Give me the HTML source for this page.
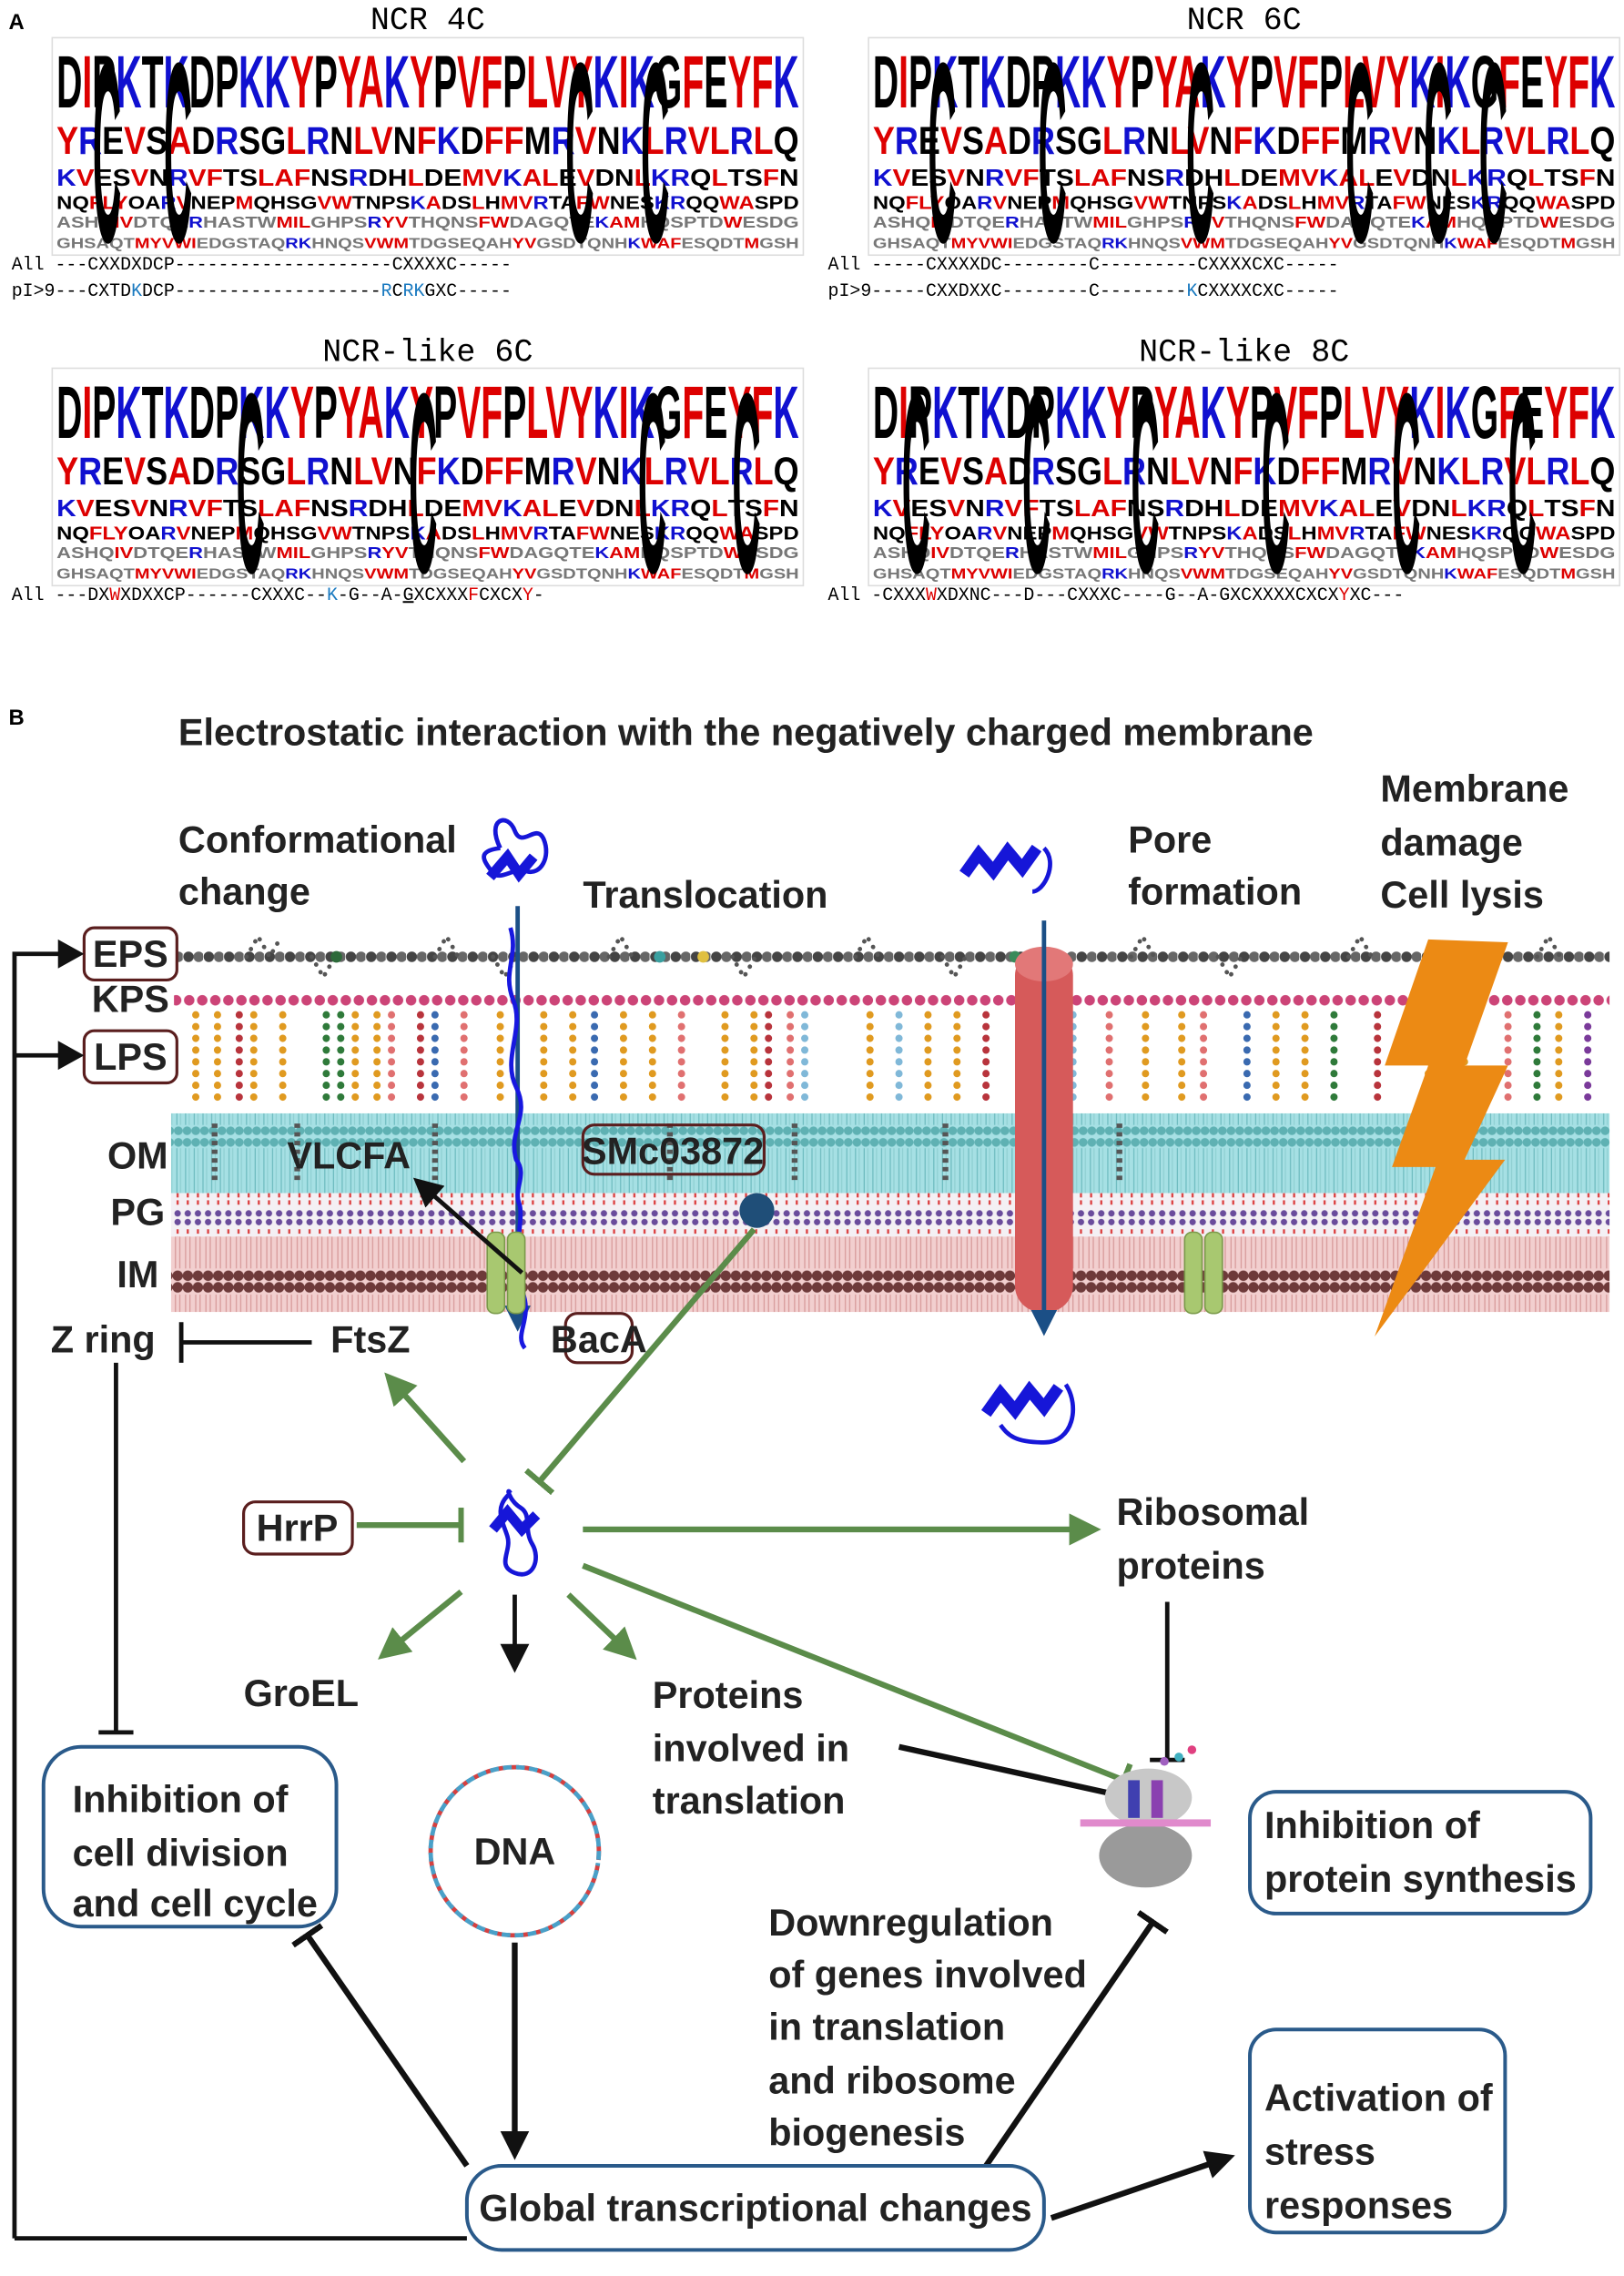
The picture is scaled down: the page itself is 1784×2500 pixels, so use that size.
<!DOCTYPE html>
<html><head><meta charset="utf-8"><style>
html,body{margin:0;padding:0;background:#fff;}
svg{display:block;}
.h{font-family:"Liberation Mono",monospace;font-size:22px;}
.s{font-family:"Liberation Mono",monospace;font-size:12.5px;}
.L{font-family:"Liberation Sans",sans-serif;font-weight:bold;}
.b{font-family:"Liberation Sans",sans-serif;font-weight:bold;font-size:26px;fill:#222;}
.r{fill:#d00;}.u{fill:#1010d0;}.k{fill:#000;}.g{fill:#777;}
</style></head><body>
<svg width="1784" height="2500" viewBox="0 0 1120 1570" preserveAspectRatio="none" xmlns="http://www.w3.org/2000/svg">
<defs>
<g id="logo">
 <rect x="0" y="0" width="518" height="150" fill="#fff" stroke="#ddd"/>
 <text class="L" transform="translate(3,48) scale(1,1.9)" font-size="27" textLength="512" lengthAdjust="spacingAndGlyphs"><tspan class="k">D</tspan><tspan class="r">I</tspan><tspan class="k">P</tspan><tspan class="u">K</tspan><tspan class="k">T</tspan><tspan class="u">K</tspan><tspan class="k">DP</tspan><tspan class="u">KK</tspan><tspan class="r">Y</tspan><tspan class="k">P</tspan><tspan class="r">YA</tspan><tspan class="u">K</tspan><tspan class="r">Y</tspan><tspan class="k">P</tspan><tspan class="r">VF</tspan><tspan class="k">P</tspan><tspan class="r">LVY</tspan><tspan class="u">K</tspan><tspan class="r">I</tspan><tspan class="u">K</tspan><tspan class="k">G</tspan><tspan class="r">F</tspan><tspan class="k">E</tspan><tspan class="r">YF</tspan><tspan class="u">K</tspan></text>
 <text class="L" transform="translate(3,80) scale(1,1.35)" font-size="20" textLength="512" lengthAdjust="spacingAndGlyphs"><tspan class="r">Y</tspan><tspan class="u">R</tspan><tspan class="k">E</tspan><tspan class="r">V</tspan><tspan class="k">S</tspan><tspan class="r">A</tspan><tspan class="k">D</tspan><tspan class="u">R</tspan><tspan class="k">SG</tspan><tspan class="r">L</tspan><tspan class="u">R</tspan><tspan class="k">N</tspan><tspan class="r">LV</tspan><tspan class="k">N</tspan><tspan class="r">F</tspan><tspan class="u">K</tspan><tspan class="k">D</tspan><tspan class="r">FF</tspan><tspan class="k">M</tspan><tspan class="u">R</tspan><tspan class="r">V</tspan><tspan class="k">N</tspan><tspan class="u">K</tspan><tspan class="r">L</tspan><tspan class="u">R</tspan><tspan class="r">VL</tspan><tspan class="u">R</tspan><tspan class="r">L</tspan><tspan class="k">Q</tspan></text>
 <text class="L" transform="translate(3,102) scale(1,1.1)" font-size="15" textLength="512" lengthAdjust="spacingAndGlyphs"><tspan class="u">K</tspan><tspan class="r">V</tspan><tspan class="k">ES</tspan><tspan class="r">V</tspan><tspan class="k">N</tspan><tspan class="u">R</tspan><tspan class="r">VF</tspan><tspan class="k">TS</tspan><tspan class="r">LAF</tspan><tspan class="k">NS</tspan><tspan class="u">R</tspan><tspan class="k">DH</tspan><tspan class="r">L</tspan><tspan class="k">DE</tspan><tspan class="r">MV</tspan><tspan class="u">K</tspan><tspan class="r">AL</tspan><tspan class="k">E</tspan><tspan class="r">V</tspan><tspan class="k">DN</tspan><tspan class="r">L</tspan><tspan class="u">KR</tspan><tspan class="k">Q</tspan><tspan class="r">L</tspan><tspan class="k">TS</tspan><tspan class="r">F</tspan><tspan class="k">N</tspan></text>
 <text class="L" transform="translate(3,118)" font-size="13" textLength="512" lengthAdjust="spacingAndGlyphs"><tspan class="k">NQ</tspan><tspan class="r">FLY</tspan><tspan class="k">OA</tspan><tspan class="u">R</tspan><tspan class="r">V</tspan><tspan class="k">NEP</tspan><tspan class="r">M</tspan><tspan class="k">QHSG</tspan><tspan class="r">VW</tspan><tspan class="k">TNPS</tspan><tspan class="u">K</tspan><tspan class="r">A</tspan><tspan class="k">DS</tspan><tspan class="r">L</tspan><tspan class="k">H</tspan><tspan class="r">MV</tspan><tspan class="u">R</tspan><tspan class="k">TA</tspan><tspan class="r">FW</tspan><tspan class="k">NES</tspan><tspan class="u">KR</tspan><tspan class="k">QQ</tspan><tspan class="r">WA</tspan><tspan class="k">SPD</tspan></text>
 <text class="L" transform="translate(3,131)" font-size="11" textLength="512" lengthAdjust="spacingAndGlyphs"><tspan class="g">ASHQ</tspan><tspan class="r">IV</tspan><tspan class="g">DTQE</tspan><tspan class="u">R</tspan><tspan class="g">HASTW</tspan><tspan class="r">MIL</tspan><tspan class="g">GHPS</tspan><tspan class="u">R</tspan><tspan class="r">YV</tspan><tspan class="g">THQNS</tspan><tspan class="r">FW</tspan><tspan class="g">DAGQTE</tspan><tspan class="u">K</tspan><tspan class="r">AM</tspan><tspan class="g">HQSPTD</tspan><tspan class="r">W</tspan><tspan class="g">ESDG</tspan></text>
 <text class="L" transform="translate(3,145)" font-size="10" textLength="512" lengthAdjust="spacingAndGlyphs"><tspan class="g">GHSAQT</tspan><tspan class="r">MYVWI</tspan><tspan class="g">EDGSTAQ</tspan><tspan class="u">RK</tspan><tspan class="g">HNQS</tspan><tspan class="r">VWM</tspan><tspan class="g">TDGSEQAH</tspan><tspan class="r">YV</tspan><tspan class="g">GSDTQNH</tspan><tspan class="u">K</tspan><tspan class="r">WAF</tspan><tspan class="g">ESQDT</tspan><tspan class="r">M</tspan><tspan class="g">GSH</tspan></text>
</g>
<g id="bigC"><text class="L" font-size="34" y="27" transform="scale(0.8,5.2)" fill="#000">C</text></g>
<pattern id="eps" width="14" height="40" patternUnits="userSpaceOnUse"><circle cx="4" cy="20" r="3.6" fill="#444"/><circle cx="11" cy="20" r="3.6" fill="#666"/></pattern>
<pattern id="kps" width="9" height="12" patternUnits="userSpaceOnUse"><circle cx="4.5" cy="6" r="3.6" fill="#cc4477"/></pattern>
<pattern id="om" width="6" height="56" patternUnits="userSpaceOnUse"><rect width="6" height="56" fill="#a6e0e4"/><circle cx="3" cy="4" r="3" fill="#5fb1b3"/><circle cx="3" cy="52" r="3" fill="#5fb1b3"/><line x1="2" y1="8" x2="2" y2="48" stroke="#6fbcc0" stroke-width="0.8"/><line x1="4.5" y1="8" x2="4.5" y2="48" stroke="#8fd0d2" stroke-width="0.8"/></pattern>
<pattern id="pg" width="7" height="30" patternUnits="userSpaceOnUse"><rect width="7" height="30" fill="#f4f0f4"/><circle cx="3.5" cy="3" r="2.2" fill="#6a4c9c"/><circle cx="3.5" cy="27" r="2.2" fill="#6a4c9c"/><line x1="3.5" y1="8" x2="3.5" y2="22" stroke="#d44" stroke-width="1.5" stroke-dasharray="3 2"/></pattern>
<pattern id="im" width="7" height="52" patternUnits="userSpaceOnUse"><rect width="7" height="52" fill="#f2cfcf"/><circle cx="3.5" cy="4" r="3.6" fill="#6e3a3a"/><circle cx="3.5" cy="48" r="3.6" fill="#6e3a3a"/><line x1="2" y1="9" x2="2" y2="43" stroke="#d79a9a" stroke-width="0.8"/><line x1="5" y1="9" x2="5" y2="43" stroke="#d79a9a" stroke-width="0.8"/></pattern>
<marker id="ag" viewBox="0 0 10 10" refX="8" refY="5" markerUnits="userSpaceOnUse" markerWidth="22" markerHeight="22" orient="auto"><path d="M0,0L10,5L0,10z" fill="#5b8c4a"/></marker>
<marker id="ak" viewBox="0 0 10 10" refX="8" refY="5" markerUnits="userSpaceOnUse" markerWidth="20" markerHeight="20" orient="auto"><path d="M0,0L10,5L0,10z" fill="#111"/></marker>
<marker id="ab" viewBox="0 0 10 10" refX="8" refY="5" markerUnits="userSpaceOnUse" markerWidth="18" markerHeight="18" orient="auto"><path d="M0,0L10,5L0,10z" fill="#1b4f86"/></marker>
<marker id="tg" viewBox="0 0 4 24" refX="2" refY="12" markerUnits="userSpaceOnUse" markerWidth="4" markerHeight="24" orient="auto"><rect width="4" height="24" fill="#5b8c4a"/></marker>
<marker id="tk" viewBox="0 0 4 24" refX="2" refY="12" markerUnits="userSpaceOnUse" markerWidth="4" markerHeight="24" orient="auto"><rect width="4" height="24" fill="#111"/></marker>
</defs>

<!-- PANEL A -->
<text x="6" y="20" class="L" font-size="15">A</text>
<text x="295" y="20" class="h" text-anchor="middle">NCR 4C</text>
<text x="858" y="20" class="h" text-anchor="middle">NCR 6C</text>
<text x="295" y="249" class="h" text-anchor="middle">NCR-like 6C</text>
<text x="858" y="249" class="h" text-anchor="middle">NCR-like 8C</text>
<use href="#logo" x="36" y="26"/>
<use href="#logo" x="599" y="26"/>
<use href="#logo" x="36" y="254"/>
<use href="#logo" x="599" y="254"/>
<use href="#bigC" x="64" y="26"/><use href="#bigC" x="113" y="26"/><use href="#bigC" x="390" y="26"/><use href="#bigC" x="442" y="26"/>
<use href="#bigC" x="640" y="26"/><use href="#bigC" x="716" y="26"/><use href="#bigC" x="818" y="26"/><use href="#bigC" x="928" y="26"/><use href="#bigC" x="982" y="26"/><use href="#bigC" x="1020" y="26"/>
<use href="#bigC" x="163" y="254"/><use href="#bigC" x="282" y="254"/><use href="#bigC" x="440" y="254"/><use href="#bigC" x="505" y="254"/>
<use href="#bigC" x="622" y="254"/><use href="#bigC" x="705" y="254"/><use href="#bigC" x="780" y="254"/><use href="#bigC" x="870" y="254"/><use href="#bigC" x="960" y="254"/><use href="#bigC" x="1040" y="254"/>
<text x="8" y="186" class="s">All  ---CXXDXDCP--------------------CXXXXC-----</text>
<text x="8" y="204" class="s">pI&gt;9---CXTD<tspan fill="#1a7ac0">K</tspan>DCP-------------------<tspan fill="#1a7ac0">R</tspan>C<tspan fill="#1a7ac0">RK</tspan>GXC-----</text>
<text x="571" y="186" class="s">All  -----CXXXXDC--------C---------CXXXXCXC-----</text>
<text x="571" y="204" class="s">pI&gt;9-----CXXDXXC--------C--------<tspan fill="#1a7ac0">K</tspan>CXXXXCXC-----</text>
<text x="8" y="414" class="s">All  ---DX<tspan fill="#d00">W</tspan>XDXXCP------CXXXC--<tspan fill="#1a7ac0">K</tspan>-G--A-<tspan text-decoration="underline">G</tspan>XCXXX<tspan fill="#d00">F</tspan>CXCX<tspan fill="#d00">Y</tspan>-</text>
<text x="571" y="414" class="s">All  -CXXX<tspan fill="#d00">W</tspan>XDXNC---D---CXXXC----G--A-GXCXXXXCXCX<tspan fill="#d00">Y</tspan>XC---</text>

<!-- PANEL B -->
<text x="6" y="500" class="L" font-size="15">B</text>
<text x="123" y="514" class="b" font-size="24">Electrostatic interaction with the negatively charged membrane</text>
<text x="123" y="588" class="b">Conformational</text>
<text x="123" y="624" class="b">change</text>
<text x="402" y="626" class="b">Translocation</text>
<text x="778" y="588" class="b">Pore</text>
<text x="778" y="624" class="b">formation</text>
<text x="952" y="553" class="b">Membrane</text>
<text x="952" y="590" class="b">damage</text>
<text x="952" y="626" class="b">Cell lysis</text>

<!-- membrane -->
<g>
<rect x="120" y="640" width="990" height="40" fill="url(#eps)"/>
<g stroke="#555" stroke-width="3" stroke-linecap="round" stroke-dasharray="0.1 6" fill="none">
<path d="M170 660l8-14 8 14 8-14M215 660l8 14 8-14M300 660l8-14 8 14M340 660l8 14 8-14M420 660l8-14 8 14M505 660l8 14 8-14M590 660l8-14 8 14M650 660l8 14 8-14M780 660l8-14 8 14M840 660l8 14 8-14M930 660l8-14 8 14M1000 660l8 14 8-14M1060 660l8-14 8 14"/>
</g>
<circle cx="485" cy="660" r="4" fill="#e0c040"/><circle cx="232" cy="660" r="4" fill="#2d6a3a"/><circle cx="455" cy="660" r="4" fill="#3aa0a0"/><circle cx="700" cy="660" r="4" fill="#3a8a5a"/>
<rect x="120" y="682" width="990" height="12" fill="url(#kps)"/>
<g stroke-width="5" stroke-linecap="round" stroke-dasharray="0.1 8" fill="none">
<path stroke="#e09a20" d="M135 700V760M150 700V760M175 700V760M195 700V760M245 700V760M260 700V760M345 700V760M375 700V760M395 700V760M430 700V760M450 700V760M500 700V760M520 700V760M600 700V760M640 700V760M660 700V760M790 700V760M815 700V760M880 700V760M900 700V760M985 700V760M1010 700V760M1075 700V760"/>
<path stroke="#b8343c" d="M165 700V760M290 700V760M530 700V760M680 700V760M950 700V760"/>
<path stroke="#e07070" d="M270 700V760M320 700V760M470 700V760M545 700V760M765 700V760M830 700V760M1040 700V760"/>
<path stroke="#2f7a3a" d="M225 700V760M235 700V760M920 700V760M1060 700V760"/>
<path stroke="#3a6ab0" d="M300 700V760M410 700V760M860 700V760"/>
<path stroke="#80b8d8" d="M620 700V760M740 700V760M555 700V760"/>
<path stroke="#7a3a9a" d="M1095 700V760"/>
</g>
<rect x="118" y="768" width="992" height="55" fill="url(#om)"/>
<g stroke="#555" stroke-width="4" stroke-dasharray="3 3"><path d="M148 775V815M205 775V815M300 775V815M462 775V815M548 775V815M652 775V815M772 775V815"/></g>
<rect x="118" y="823" width="992" height="30" fill="url(#pg)"/>
<rect x="118" y="853" width="992" height="52" fill="url(#im)"/>
</g>
<!-- labels -->
<rect x="58" y="640" width="64" height="36" rx="7" fill="#fff" stroke="#5a1e1e" stroke-width="2"/>
<text x="90" y="667" class="b" text-anchor="middle" font-size="24">EPS</text>
<text x="90" y="698" class="b" text-anchor="middle" font-size="24">KPS</text>
<rect x="58" y="711" width="64" height="36" rx="7" fill="#fff" stroke="#5a1e1e" stroke-width="2"/>
<text x="90" y="738" class="b" text-anchor="middle" font-size="24">LPS</text>
<text x="95" y="806" class="b" text-anchor="middle" font-size="24">OM</text>
<text x="95" y="845" class="b" text-anchor="middle" font-size="24">PG</text>
<text x="95" y="888" class="b" text-anchor="middle" font-size="24">IM</text>
<text x="198" y="806" class="b" font-size="24">VLCFA</text>
<rect x="402" y="776" width="125" height="34" rx="8" fill="none" stroke="#5a1e1e" stroke-width="2"/>
<text x="464" y="803" class="b" text-anchor="middle" font-size="24">SMc03872</text>
<!-- left feedback -->
<path d="M10 1544V658H52M10 728H52" fill="none" stroke="#111" stroke-width="3"/>
<path d="M40 648L58 658L40 668zM40 718L58 728L40 738z" fill="#111"/>
<path d="M322 1544H10" stroke="#111" stroke-width="3"/>
<!-- translocation -->
<path d="M357 625V915" stroke="#1b4f86" stroke-width="3" marker-end="url(#ab)"/>
<path d="M352 640c6 20-6 30 2 50s-8 40 2 60 -6 30 0 50c8 10-2 20 2 30s-6 40 2 60 -6 30 2 40" stroke="#1818e0" stroke-width="3" fill="none"/>
<rect x="336" y="850" width="12" height="56" rx="5" fill="#a8c870" stroke="#7a9a4a"/><rect x="350" y="850" width="12" height="56" rx="5" fill="#a8c870" stroke="#7a9a4a"/>
<rect x="817" y="850" width="12" height="56" rx="5" fill="#a8c870" stroke="#7a9a4a"/><rect x="831" y="850" width="12" height="56" rx="5" fill="#a8c870" stroke="#7a9a4a"/>
<path d="M360 878L288 815" stroke="#111" stroke-width="3" marker-end="url(#ak)"/>
<circle cx="522" cy="835" r="12" fill="#1f4e78"/>
<!-- pore -->
<rect x="700" y="655" width="40" height="250" rx="18" fill="#d65a5a"/>
<ellipse cx="720" cy="665" rx="20" ry="12" fill="#e27878"/>
<path d="M720 635V918" stroke="#1b4f86" stroke-width="3" marker-end="url(#ab)"/>
<!-- lightning -->
<path d="M985 648L1040 650L1010 735L1040 735L1010 800L1038 800L948 922L990 805L960 805L985 735L955 735z" fill="#ec8a14"/>
<!-- proteins -->
<g stroke="#1616d8" stroke-width="3" fill="none">
<path d="M345 585c-10-20 5-25 10-12s15-6 20 6-2 25-12 22-18 8-24 0-10-14 6-16"/><path d="M338 605l12-14 8 12 10-12" stroke-width="7"/>
<path d="M665 603l10-14 10 12 10-14 10 12 10-14" stroke-width="8"/><path d="M720 585c10 10 0 30-8 30"/>
<path d="M680 975l10-14 10 12 10-14 10 12 10-14" stroke-width="8"/><path d="M735 955c10 15 5 40-15 40s-25-5-30-12"/>
<path d="M352 1030c-12 10-5 20-2 30s-8 20 5 25 18-10 12-20 0-20-8-25-10-15-7-10"/><path d="M340 1055l10-12 10 12 10-10" stroke-width="7"/>
</g>
<!-- Z ring / FtsZ -->
<text x="35" y="933" class="b">Z ring</text>
<path d="M125 912V940M125 926H215" stroke="#111" stroke-width="3"/>
<text x="228" y="933" class="b">FtsZ</text>
<rect x="390" y="906" width="46" height="34" rx="8" fill="#fff" stroke="#5a1e1e" stroke-width="2"/>
<text x="413" y="933" class="b" text-anchor="middle" font-size="24">BacA</text>
<path d="M80 940V1195M68 1195H92" stroke="#111" stroke-width="3"/>
<!-- hub arrows -->
<g stroke="#5b8c4a" stroke-width="4" fill="none">
<path d="M320 1008L268 950" marker-end="url(#ag)"/>
<path d="M520 848L372 1022" marker-end="url(#tg)"/>
<path d="M246 1052H318" marker-end="url(#tg)"/>
<path d="M402 1055H755" marker-end="url(#ag)"/>
<path d="M318 1098L264 1142" marker-end="url(#ag)"/>
<path d="M392 1100L436 1142" marker-end="url(#ag)"/>
<path d="M402 1080L775 1228" marker-end="url(#tg)"/>
</g>
<path d="M355 1100V1150" stroke="#111" stroke-width="3" marker-end="url(#ak)"/>
<rect x="168" y="1036" width="75" height="36" rx="8" fill="#fff" stroke="#5a1e1e" stroke-width="2"/>
<text x="205" y="1063" class="b" text-anchor="middle" font-size="24">HrrP</text>
<text x="770" y="1052" class="b">Ribosomal</text>
<text x="770" y="1089" class="b">proteins</text>
<path d="M805 1105V1214M793 1214H817" stroke="#111" stroke-width="3"/>
<text x="168" y="1177" class="b">GroEL</text>
<text x="450" y="1178" class="b">Proteins</text>
<text x="450" y="1215" class="b">involved in</text>
<text x="450" y="1251" class="b">translation</text>
<path d="M620 1205L770 1238" stroke="#111" stroke-width="4" marker-end="url(#tk)"/>
<!-- boxes -->
<rect x="30" y="1205" width="202" height="124" rx="26" fill="#fff" stroke="#2a5a8a" stroke-width="2.5"/>
<text x="50" y="1250" class="b">Inhibition of</text>
<text x="50" y="1287" class="b">cell division</text>
<text x="50" y="1322" class="b">and cell cycle</text>
<circle cx="355" cy="1277" r="58" fill="none" stroke="#d54040" stroke-width="3" stroke-dasharray="6 3"/>
<circle cx="355" cy="1277" r="58" fill="none" stroke="#4aa0c8" stroke-width="3" stroke-dasharray="6 3" stroke-dashoffset="4" transform="rotate(8 355 1277)"/>
<text x="355" y="1286" class="b" text-anchor="middle">DNA</text>
<!-- ribosome -->
<ellipse cx="792" cy="1240" rx="30" ry="20" fill="#c8c8c8"/><ellipse cx="790" cy="1280" rx="32" ry="22" fill="#9a9a9a"/>
<rect x="745" y="1255" width="90" height="5" fill="#e08acc"/>
<rect x="778" y="1228" width="8" height="26" fill="#4040b0"/><rect x="794" y="1228" width="8" height="26" fill="#8a40b0"/>
<circle cx="803" cy="1215" r="3" fill="#a060c0"/><circle cx="813" cy="1212" r="3" fill="#40b0c0"/><circle cx="822" cy="1207" r="3" fill="#e04080"/>
<rect x="862" y="1236" width="235" height="84" rx="18" fill="#fff" stroke="#2a5a8a" stroke-width="2.5"/>
<text x="872" y="1268" class="b">Inhibition of</text>
<text x="872" y="1305" class="b">protein synthesis</text>
<text x="530" y="1335" class="b">Downregulation</text>
<text x="530" y="1371" class="b">of genes involved</text>
<text x="530" y="1407" class="b">in translation</text>
<text x="530" y="1444" class="b">and ribosome</text>
<text x="530" y="1480" class="b">biogenesis</text>
<path d="M355 1340V1486" stroke="#111" stroke-width="4" marker-end="url(#ak)"/>
<path d="M322 1494L212 1335" stroke="#111" stroke-width="4" marker-end="url(#tk)"/>
<path d="M680 1494L795 1326" stroke="#111" stroke-width="4" marker-end="url(#tk)"/>
<path d="M725 1530L848 1488" stroke="#111" stroke-width="4" marker-end="url(#ak)"/>
<rect x="322" y="1494" width="398" height="58" rx="24" fill="#fff" stroke="#2a5a8a" stroke-width="2.5"/>
<text x="521" y="1532" class="b" text-anchor="middle">Global transcriptional changes</text>
<rect x="862" y="1400" width="176" height="140" rx="18" fill="#fff" stroke="#2a5a8a" stroke-width="2.5"/>
<text x="872" y="1456" class="b">Activation of</text>
<text x="872" y="1493" class="b">stress</text>
<text x="872" y="1530" class="b">responses</text>
</svg>
</body></html>
